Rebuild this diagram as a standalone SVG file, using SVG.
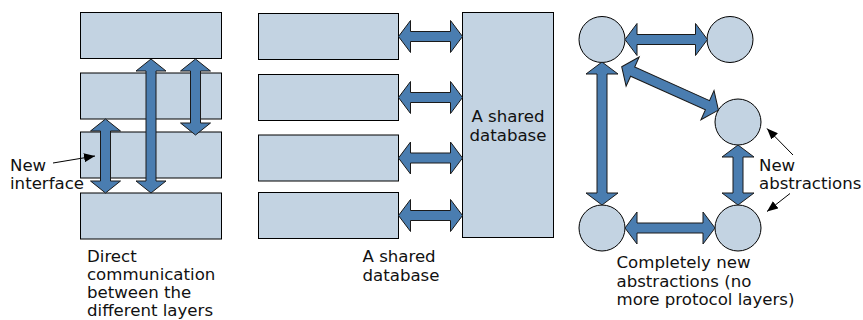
<svg xmlns="http://www.w3.org/2000/svg" width="863" height="320" viewBox="0 0 863 320">
<style>
.box{fill:#c3d3e2;stroke:#000;stroke-width:1}
.arr{fill:#4a7db0;stroke:#1a1a1a;stroke-width:1;stroke-linejoin:miter}
.ptr{stroke:#000;stroke-width:1;fill:none}
text{font-family:"DejaVu Sans","Liberation Sans",sans-serif;font-size:16.6px;fill:#111}
</style>
<defs>
<marker id="ah" markerUnits="userSpaceOnUse" markerWidth="11" markerHeight="9" refX="11" refY="4.5" orient="auto">
<path d="M0,0 L11,4.5 L0,9 z" fill="#000"/>
</marker>
</defs>
<rect width="863" height="320" fill="#fff"/>

<!-- Left panel: layers -->
<g id="layer1"><rect class="box" x="80.5" y="12.5" width="141" height="46"/></g>
<g id="layer2"><rect class="box" x="80.5" y="73" width="141" height="46"/></g>
<g id="layer3"><rect class="box" x="80.5" y="132" width="141" height="46"/></g>
<g id="layer4"><rect class="box" x="80.5" y="193" width="141" height="46"/></g>

<!-- Middle panel -->
<g id="app1"><rect class="box" x="258.5" y="13.5" width="140" height="46"/></g>
<g id="app2"><rect class="box" x="258.5" y="74.5" width="140" height="46"/></g>
<g id="app3"><rect class="box" x="258.5" y="135" width="140" height="46"/></g>
<g id="app4"><rect class="box" x="258.5" y="192.5" width="140" height="46"/></g>
<g id="db"><rect class="box" x="462.5" y="12.5" width="91" height="225"/>
<text x="508" y="122" text-anchor="middle">A shared</text>
<text x="508" y="140.5" text-anchor="middle">database</text></g>

<!-- Right panel circles -->
<g id="c1"><circle class="box" cx="602" cy="39.5" r="23"/></g>
<g id="c2"><circle class="box" cx="730" cy="39.5" r="23"/></g>
<g id="c3"><circle class="box" cx="738" cy="122" r="23"/></g>
<g id="c4"><circle class="box" cx="602" cy="228" r="23"/></g>
<g id="c5"><circle class="box" cx="738" cy="228" r="23"/></g>

<g id="connectors">
<!-- left panel -->
<polygon class="arr" points="105.5,119 120.5,131 110.5,131 110.5,181 120.5,181 105.5,193 90.5,181 100.5,181 100.5,131 90.5,131"/>
<polygon class="arr" points="151,59 166,71 156,71 156,181 166,181 151,193 136,181 146,181 146,71 136,71"/>
<polygon class="arr" points="195.5,59 210.5,71 200.5,71 200.5,123 210.5,123 195.5,135 180.5,123 190.5,123 190.5,71 180.5,71"/>
<!-- middle panel -->
<polygon class="arr" points="398.5,36.5 410.5,20.5 410.5,31.5 450.5,31.5 450.5,20.5 462.5,36.5 450.5,52.5 450.5,41.5 410.5,41.5 410.5,52.5"/>
<polygon class="arr" points="398.5,97.5 410.5,81.5 410.5,92.5 450.5,92.5 450.5,81.5 462.5,97.5 450.5,113.5 450.5,102.5 410.5,102.5 410.5,113.5"/>
<polygon class="arr" points="398.5,158 410.5,142 410.5,153 450.5,153 450.5,142 462.5,158 450.5,174 450.5,163 410.5,163 410.5,174"/>
<polygon class="arr" points="398.5,215.5 410.5,199.5 410.5,210.5 450.5,210.5 450.5,199.5 462.5,215.5 450.5,231.5 450.5,220.5 410.5,220.5 410.5,231.5"/>
<!-- right panel -->
<polygon class="arr" points="625,39.5 637,23.5 637,34.5 695.5,34.5 695.5,23.5 707.5,39.5 695.5,55.5 695.5,44.5 637,44.5 637,55.5"/>
<polygon class="arr" points="625,228 637,212 637,223 703,223 703,212 715,228 703,244 703,233 637,233 637,244"/>
<polygon class="arr" points="602,62 618,74 607,74 607,193 618,193 602,205 586,193 597,193 597,74 586,74"/>
<polygon class="arr" points="738,145 754,157 743,157 743,193 754,193 738,205 722,193 733,193 733,157 722,157"/>
<polygon class="arr" transform="translate(621.7,66.7) rotate(24.15)" points="0,0 12,-16 12,-5 94,-5 94,-16 106,0 94,16 94,5 12,5 12,16"/>
<!-- pointers -->
<line class="ptr" x1="53" y1="163" x2="95" y2="156" marker-end="url(#ah)"/>
<line class="ptr" x1="793" y1="155" x2="767" y2="128.5" marker-end="url(#ah)"/>
<line class="ptr" x1="790" y1="193.5" x2="767" y2="211.5" marker-end="url(#ah)"/>
</g>

<!-- labels -->
<text x="10" y="170.5">New</text>
<text x="10" y="189">interface</text>
<text x="87" y="262">Direct</text>
<text x="87" y="280">communication</text>
<text x="87" y="298">between the</text>
<text x="87" y="316">different layers</text>
<text x="362.5" y="262">A shared</text>
<text x="362.5" y="280.5">database</text>
<text x="759" y="171">New</text>
<text x="759" y="189">abstractions</text>
<text x="616.5" y="268">Completely new</text>
<text x="616.5" y="286.5">abstractions (no</text>
<text x="616.5" y="305">more protocol layers)</text>
</svg>
